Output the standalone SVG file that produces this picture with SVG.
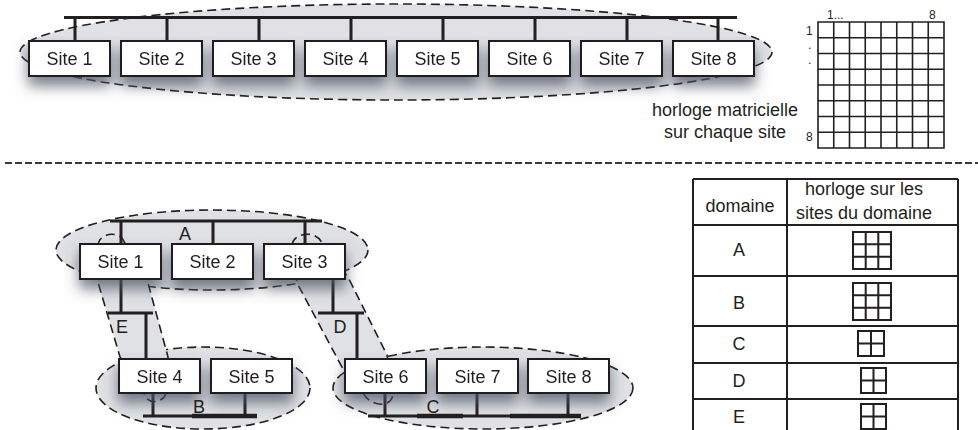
<svg xmlns="http://www.w3.org/2000/svg" width="978" height="430" viewBox="0 0 978 430">
<defs>
<style>
.t{font-family:"Liberation Sans",Arial,sans-serif;font-size:18px;fill:#231f20}
.s{font-family:"Liberation Sans",Arial,sans-serif;font-size:12px;fill:#231f20}
.mid{text-anchor:middle}
.dom{fill:#dfe1e5;stroke:#231f20;stroke-width:1.6;stroke-dasharray:9 5}
.box{fill:#fff;stroke:#231f20;stroke-width:2}
.bus{stroke:#231f20;stroke-width:3;fill:none}
.busb{stroke:#231f20;stroke-width:4.5;fill:none}
.drop{stroke:#231f20;stroke-width:3;fill:none}
.grid{stroke:#231f20;stroke-width:1.6;fill:none}
.tab{stroke:#231f20;stroke-width:2;fill:none}
</style>
<filter id="sh" x="-30%" y="-40%" width="160%" height="220%">
<feGaussianBlur in="SourceAlpha" stdDeviation="7"/>
<feOffset dx="0" dy="9" result="b"/>
<feFlood flood-color="#4d5563" flood-opacity="0.75"/>
<feComposite in2="b" operator="in"/>
<feMerge><feMergeNode/><feMergeNode in="SourceGraphic"/></feMerge>
</filter>
</defs>
<rect width="978" height="430" fill="#fff"/>

<!-- domains (top) -->
<g id="domain-all">
<ellipse class="dom" cx="396" cy="52" rx="376" ry="48"/>
</g>
<!-- domains (bottom) -->
<g id="domain-A"><ellipse class="dom" cx="212" cy="250" rx="156" ry="40"/></g>
<g id="domain-B"><ellipse class="dom" cx="203" cy="388" rx="107" ry="41"/></g>
<g id="domain-C"><ellipse class="dom" cx="483" cy="388" rx="150" ry="41"/></g>
<g id="domain-E"><path class="dom" d="M98,246 C98,236 112,230 122,238 L148,283 L168,357 L166,393 C163,404 147,404 145,395 L120,357 L97,279 Z"/></g>
<g id="domain-D"><path class="dom" d="M292,245 C294,232 316,230 322,243 L348,277 L387,355 L393,395 C390,409 370,406 363,393 L343,369 L297,283 Z"/></g>

<!-- connectors -->
<g id="connectors">
<path class="bus" d="M64,17.5 H737"/>
<path class="drop" d="M75,17 V41 M167,17 V41 M259,17 V41 M351,17 V41 M443,17 V41 M535,17 V41 M627,17 V41 M718,17 V41"/>
<path class="bus" d="M110,221 H322"/>
<path class="drop" d="M121,221 V244 M213,221 V244 M305,221 V244"/>
<path class="bus" d="M108,313 H153"/>
<path class="drop" d="M121,279 V313 M146,313 V359"/>
<path class="bus" d="M318,313 H364"/>
<path class="drop" d="M333,279 V313 M357,313 V359"/>
<path class="bus" d="M143,416 H192"/>
<path class="busb" d="M192,416 H257"/>
<path class="drop" d="M153,393 V416 M245,393 V416"/>
<path class="bus" d="M368,416 H417 M463,416 H510"/>
<path class="busb" d="M417,416 H463 M510,416 H581"/>
<path class="drop" d="M385,393 V416 M477,393 V416 M568,393 V416"/>
</g>

<!-- top sites -->
<g filter="url(#sh)">
<g id="top-site1"><rect class="box" x="29" y="41" width="81" height="35"/><text class="t mid" x="69.5" y="65">Site 1</text></g>
<g id="top-site2"><rect class="box" x="121" y="41" width="81" height="35"/><text class="t mid" x="161.5" y="65">Site 2</text></g>
<g id="top-site3"><rect class="box" x="213" y="41" width="81" height="35"/><text class="t mid" x="253.5" y="65">Site 3</text></g>
<g id="top-site4"><rect class="box" x="305" y="41" width="81" height="35"/><text class="t mid" x="345.5" y="65">Site 4</text></g>
<g id="top-site5"><rect class="box" x="397" y="41" width="81" height="35"/><text class="t mid" x="437.5" y="65">Site 5</text></g>
<g id="top-site6"><rect class="box" x="489" y="41" width="81" height="35"/><text class="t mid" x="529.5" y="65">Site 6</text></g>
<g id="top-site7"><rect class="box" x="581" y="41" width="81" height="35"/><text class="t mid" x="621.5" y="65">Site 7</text></g>
<g id="top-site8"><rect class="box" x="673" y="41" width="81" height="35"/><text class="t mid" x="713.5" y="65">Site 8</text></g>
</g>

<!-- bottom sites -->
<g filter="url(#sh)">
<g id="site1"><rect class="box" x="80" y="244" width="81" height="35"/><text class="t mid" x="120.5" y="268">Site 1</text></g>
<g id="site2"><rect class="box" x="172" y="244" width="81" height="35"/><text class="t mid" x="212.5" y="268">Site 2</text></g>
<g id="site3"><rect class="box" x="264" y="244" width="81" height="35"/><text class="t mid" x="304.5" y="268">Site 3</text></g>
<g id="site4"><rect class="box" x="119" y="359" width="81" height="34"/><text class="t mid" x="159.5" y="383">Site 4</text></g>
<g id="site5"><rect class="box" x="211" y="359" width="81" height="34"/><text class="t mid" x="251.5" y="383">Site 5</text></g>
<g id="site6"><rect class="box" x="345" y="359" width="81" height="34"/><text class="t mid" x="385.5" y="383">Site 6</text></g>
<g id="site7"><rect class="box" x="437" y="359" width="81" height="34"/><text class="t mid" x="477.5" y="383">Site 7</text></g>
<g id="site8"><rect class="box" x="528" y="359" width="81" height="34"/><text class="t mid" x="568.5" y="383">Site 8</text></g>
</g>

<!-- domain labels -->
<g id="labels">
<text class="t mid" x="185" y="240">A</text>
<text class="t mid" x="199" y="413">B</text>
<text class="t mid" x="433" y="413">C</text>
<text class="t mid" x="340" y="333">D</text>
<text class="t mid" x="122" y="333">E</text>
</g>

<!-- matrix clock -->
<g id="matrix">
<path class="grid" d="M818,22 H944 V148 H818 Z M833.75,22 V148 M849.5,22 V148 M865.25,22 V148 M881,22 V148 M896.75,22 V148 M912.5,22 V148 M928.25,22 V148 M818,37.75 H944 M818,53.5 H944 M818,69.25 H944 M818,85 H944 M818,100.75 H944 M818,116.5 H944 M818,132.25 H944"/>
<text class="s" x="827" y="19">1...</text>
<text class="s" x="929" y="19">8</text>
<text class="s" x="806" y="35">1</text>
<text class="s" x="808" y="49">.</text>
<text class="s" x="808" y="64">.</text>
<text class="s" x="806" y="141">8</text>
</g>
<g id="caption">
<text class="t mid" x="725" y="116">horloge matricielle</text>
<text class="t mid" x="725" y="138">sur chaque site</text>
</g>

<!-- separator -->
<path d="M5,163 H978" stroke="#3a3a3a" stroke-width="2" stroke-dasharray="7 3" fill="none"/>

<!-- table -->
<g id="table">
<path class="tab" d="M693,179 H958 M693,225 H958 M693,276 H958 M693,326 H958 M693,363 H958 M693,399 H958 M693,179 V432 M787,179 V432 M958,179 V432"/>
<text class="t mid" x="740" y="212">domaine</text>
<text class="t mid" x="864" y="195">horloge sur les</text>
<text class="t mid" x="864" y="219">sites du domaine</text>
<text class="t mid" x="739" y="256">A</text>
<text class="t mid" x="739" y="309">B</text>
<text class="t mid" x="739" y="350">C</text>
<text class="t mid" x="739" y="387">D</text>
<text class="t mid" x="739" y="423">E</text>
<path class="tab" d="M853,232 H891 V269 H853 Z M865.7,232 V269 M878.3,232 V269 M853,244.3 H891 M853,256.7 H891"/>
<path class="tab" d="M853,283 H891 V320 H853 Z M865.7,283 V320 M878.3,283 V320 M853,295.3 H891 M853,307.7 H891"/>
<path class="tab" d="M858,331 H884 V356 H858 Z M871,331 V356 M858,343.5 H884"/>
<path class="tab" d="M861,368 H886 V393 H861 Z M873.5,368 V393 M861,380.5 H886"/>
<path class="tab" d="M861,404 H886 V429 H861 Z M873.5,404 V429 M861,416.5 H886"/>
</g>
</svg>
